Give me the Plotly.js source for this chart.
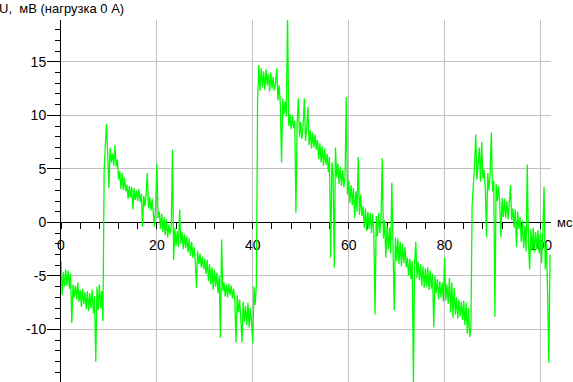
<!DOCTYPE html>
<html>
<head>
<meta charset="utf-8">
<script src="https://cdn.plot.ly/plotly-3.0.1.min.js"></script>
<style>
html,body{margin:0;padding:0;background:#fff;}
#chart{width:573px;height:382px;}
</style>
</head>
<body>
<div id="chart"></div>
<script>
// Sampled signal: start time and sample step (ms)
const t0 = 0;
const dt = 0.25;

// Voltage samples, mV, 20 samples per 5 ms
const u_0_5 = [-3.6,-6.8,-4.6,-6.0,-4.4,-5.9,-4.5,-6.2,-4.8,-9.4,-5.8,-7.0,-5.9,-7.2,-5.6,-7.4,-6.3,-7.9,-6.2,-7.6];
const u_5_10 = [-6.5,-8.1,-6.4,-8.3,-6.6,-8.0,-6.3,-8.5,-6.9,-13.0,-6.0,-8.2,-5.8,-8.0,-6.4,-9.2,4.8,7.2,9.2,6.2];
const u_10_15 = [3.2,7.0,5.6,6.4,5.3,7.2,5.2,5.9,4.0,4.8,3.1,4.6,3.0,4.2,2.9,3.5,2.2,3.4,2.3,3.3];
const u_15_20 = [1.2,3.2,2.1,3.0,2.0,3.1,1.9,2.7,-0.4,2.5,1.5,2.6,4.6,1.3,2.4,1.1,2.2,0.9,-0.4,1.7];
const u_20_25 = [5.5,0.4,1.0,-0.6,0.8,-0.9,0.5,-1.2,0.3,-1.4,-0.2,-1.1,-0.4,6.8,-3.5,-0.5,-2.2,-0.8,-2.3,1.2];
const u_25_30 = [-2.0,-0.9,-2.5,-1.1,-2.4,-1.3,-2.8,-1.5,-3.1,-1.8,-3.3,-2.3,-3.6,-6.1,-2.7,-3.9,-2.9,-4.2,-3.2,-4.4];
const u_30_35 = [-3.4,-4.8,-3.5,-5.5,-3.9,-5.8,-4.2,-6.3,-4.4,-6.0,-4.7,-6.6,-5.0,-10.8,-1.6,-6.4,-5.6,-6.9,-5.8,-7.0];
const u_35_40 = [-5.7,-6.8,-5.9,-7.1,-6.2,-7.3,-11.2,-6.8,-8.4,-7.2,-9.0,-11.2,-7.4,-9.3,-7.8,-9.6,-7.5,-9.8,-8.0,-9.4];
const u_40_45 = [-11.3,-6.0,-7.7,-5.8,11.2,14.7,12.3,14.4,12.6,14.1,12.4,14.3,12.8,13.9,12.2,14.0,12.5,13.6,12.3,13.0];
const u_45_50 = [14.4,11.4,12.8,11.0,5.6,11.6,10.1,11.3,9.9,19.5,9.0,10.1,8.7,10.0,8.8,9.5,0.9,9.2,11.6,8.0];
const u_50_55 = [9.4,7.8,9.1,11.6,7.6,8.8,10.8,7.2,8.6,6.9,8.4,7.0,8.2,6.8,7.7,5.9,7.4,5.6,7.1,5.3];
const u_55_60 = [6.9,5.4,6.4,4.7,6.1,-3.3,5.6,4.4,-4.2,7.0,4.2,5.5,3.6,5.2,3.4,4.9,3.3,4.3,11.7,2.6];
const u_60_65 = [3.9,1.8,3.5,1.6,3.2,0.4,2.9,1.0,6.1,0.7,2.6,0.6,1.5,-0.5,1.3,-0.8,1.0,-0.6,0.9,-1.0];
const u_65_70 = [0.8,-1.1,-8.6,0.6,-1.3,0.9,-1.0,0.5,6.0,-1.5,0.2,-3.3,-0.3,-2.5,-0.5,-2.9,3.7,-2.2,-8.2,-1.4];
const u_70_75 = [-3.6,-1.5,-3.9,-1.8,-4.1,-2.0,-3.8,-2.3,-4.2,-3.3,-5.0,-3.4,-5.3,-3.6,-14.9,-3.8,-1.8,-5.2,-3.7,-5.4];
const u_75_80 = [-3.9,-5.9,-4.1,-6.1,-4.3,-6.0,-4.2,-6.3,-4.5,-6.2,-4.8,-9.8,-5.0,-6.6,-5.3,-7.2,-5.5,-7.0,-5.6,-7.4];
const u_80_85 = [-3.3,-7.3,-5.8,-7.6,-5.2,-8.4,-5.6,-8.9,-6.1,-8.6,-7.0,-9.0,-7.2,-8.8,-7.4,-9.1,-7.3,-9.6,-7.5,-10.4];
const u_85_90 = [-8.0,-10.7,-9.8,1.6,3.5,5.2,8.2,4.0,5.4,7.0,3.8,7.5,4.1,4.9,3.2,-1.4,4.6,3.0,4.5,8.4];
const u_90_95 = [2.9,3.9,-8.8,3.6,2.0,3.4,1.9,-1.4,2.3,0.5,2.2,0.4,2.0,0.3,1.8,3.5,0.2,1.3,-0.5,1.2];
const u_95_100 = [-2.3,1.0,-0.6,0.5,-1.8,0.2,-2.4,-0.3,-2.7,5.4,-1.9,-4.4,-0.6,-2.6,-0.5,-2.8,-0.9,-2.5,-0.7,-2.9];
const u_100_102 = [-1.0,-3.8,-0.9,3.3,-4.4,-2.0,-6.8,-13.1,-3.0];

// Tick labels / axis texts
const xTickVals = [0, 20, 40, 60, 80, 100];
const yTickVals = [-10, -5, 0, 5, 10, 15];
const yTitle = 'U,\u00a0 мВ (нагрузка 0 А)';
const xUnit = 'мс';

const u = [].concat(u_0_5,u_5_10,u_10_15,u_15_20,u_20_25,u_25_30,u_30_35,u_35_40,
  u_40_45,u_45_50,u_50_55,u_55_60,u_60_65,u_65_70,u_70_75,u_75_80,u_80_85,u_85_90,
  u_90_95,u_95_100,u_100_102);

const FONT = 'Liberation Sans, Arial, sans-serif';
const yMin = -14.9, yMax = 18.9;
const zeroPos = (0 - yMin) / (yMax - yMin);

const trace = {
  type: 'scatter',
  mode: 'lines',
  y: u,
  x0: t0,
  dx: dt,
  line: {color: '#00ff00', width: 1.3, simplify: false},
  hoverinfo: 'skip'
};

const layout = {
  width: 573, height: 382,
  margin: {l: 61, r: 22, t: 20, b: 0, pad: 0},
  paper_bgcolor: '#ffffff',
  plot_bgcolor: '#ffffff',
  showlegend: false,
  font: {family: FONT, size: 13, color: '#000'},
  xaxis: {
    range: [0, 102.2],
    anchor: 'free',
    position: zeroPos,
    showline: true, linecolor: '#000', linewidth: 1,
    tickmode: 'array', tickvals: xTickVals, ticktext: xTickVals.map(String),
    ticks: '', ticklabelstandoff: 10,
    minor: {dtick: 4, tick0: 0, ticks: 'outside', ticklen: 6, tickcolor: '#000', tickwidth: 1, showgrid: false},
    showgrid: true, gridcolor: '#c0c0c0', gridwidth: 1,
    zeroline: false,
    layer: 'below traces',
    tickfont: {family: FONT, size: 14, color: '#000'},
    fixedrange: true
  },
  yaxis: {
    range: [yMin, yMax],
    showline: true, linecolor: '#000', linewidth: 1,
    tickmode: 'array', tickvals: yTickVals, ticktext: yTickVals.map(String),
    ticks: 'outside', ticklen: 13, tickcolor: '#000', tickwidth: 1,
    ticklabelstandoff: -2,
    minor: {dtick: 1, tick0: 0, ticks: 'outside', ticklen: 5, tickcolor: '#000', tickwidth: 1, showgrid: false},
    showgrid: true, gridcolor: '#c0c0c0', gridwidth: 1,
    zeroline: false,
    layer: 'below traces',
    tickfont: {family: FONT, size: 14, color: '#000'},
    fixedrange: true
  },
  annotations: [
    {text: yTitle, xref: 'paper', yref: 'paper', x: -64/490, y: (382-8)/362,
     xanchor: 'left', yanchor: 'middle', showarrow: false,
     font: {family: FONT, size: 13, color: '#000'}},
    {text: xUnit, xref: 'paper', yref: 'paper', x: (555-61)/490, y: zeroPos,
     xanchor: 'left', yanchor: 'middle', showarrow: false,
     font: {family: FONT, size: 13, color: '#000'}}
  ]
};

Plotly.newPlot('chart', [trace], layout, {staticPlot: true, displayModeBar: false});
</script>
</body>
</html>
